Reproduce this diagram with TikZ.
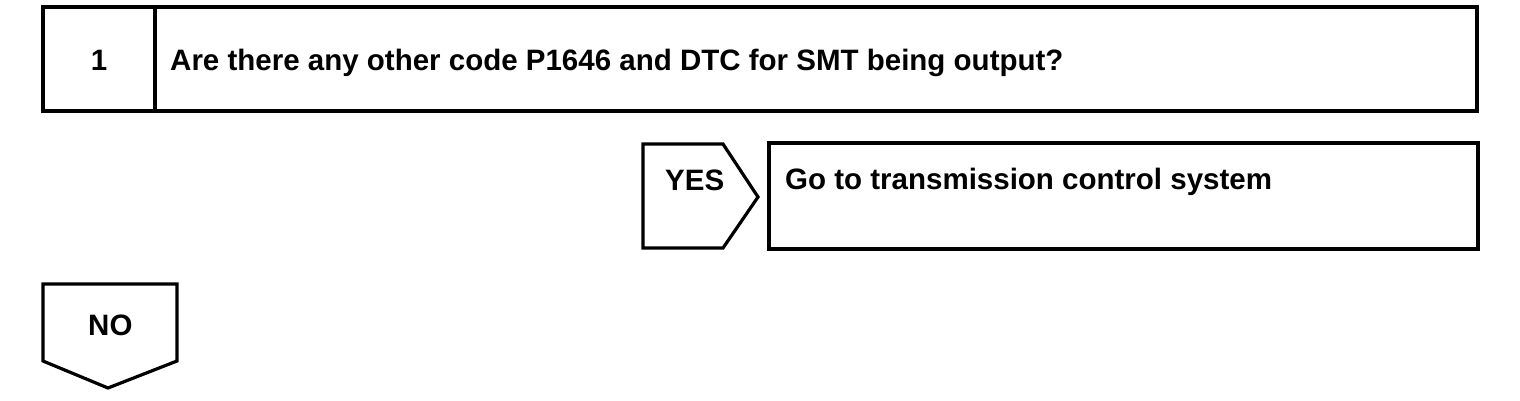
\documentclass[tikz,border=0pt]{standalone}
\usepackage{fontspec}
\setmainfont{Liberation Sans}
\begin{document}
\begin{tikzpicture}[x=1pt,y=-1pt,
  frame/.style={draw=black,line width=3.2pt,line join=miter},
  lbl/.style={font=\bfseries\fontsize{29.5}{34}\selectfont,anchor=base west,inner sep=0pt}]
\useasboundingbox[fill=white] (0,0) rectangle (1520,400);
% question box
\draw[frame] (43,7) rectangle (1477,111);
\draw[frame] (155,7) -- (155,111);
\node[lbl,anchor=base] (num) at (99,70) {1};
\node[lbl] (q) at (170,70) {Are there any other code P1646 and DTC for SMT being output?};
% YES arrow
\draw[frame] (643,144) -- (723,144) -- (758,197) -- (723,248) -- (643,248) -- cycle;
\node[lbl] (yes) at (665,190) {YES};
% result box
\draw[frame] (769,143) rectangle (1478,249);
\node[lbl] (go) at (785,189) {Go to transmission control system};
% NO arrow
\draw[frame] (43,284) -- (177,284) -- (177,361) -- (108,388) -- (43,361) -- cycle;
\node[lbl] (no) at (88,335) {NO};
\end{tikzpicture}
\end{document}
